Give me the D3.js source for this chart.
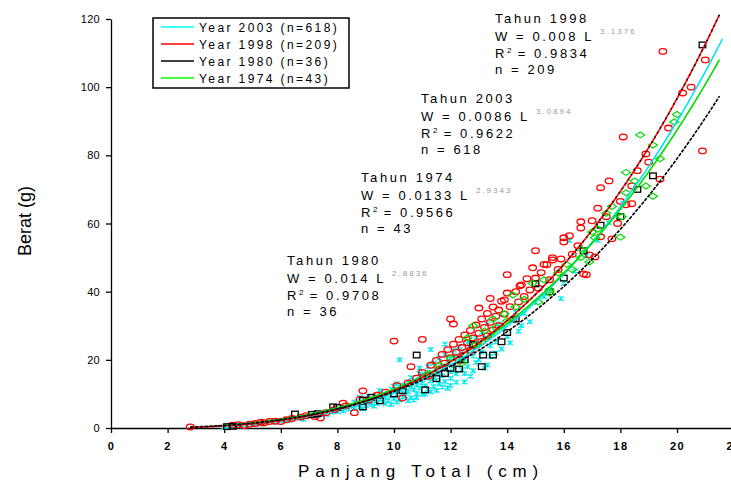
<!DOCTYPE html>
<html>
<head>
<meta charset="utf-8">
<script src="https://cdn.jsdelivr.net/npm/d3@7"></script>
<style>
  body { margin: 0; background: #fff; }
  text { font-family: "Liberation Sans", Arial, sans-serif; fill: #000; }
</style>
</head>
<body>
<svg id="chart"></svg>
<script>
const WIDTH = 731;
const HEIGHT = 482;

// tick labels
const xTicks = [0, 2, 4, 6, 8, 10, 12, 14, 16, 18, 20, 22];
const yTicks = [0, 20, 40, 60, 80, 100, 120];

// fitted models W = a L^b, one per year
const fitYears = ["1998", "2003", "1974", "1980"];
const fitA = [0.008, 0.0086, 0.0133, 0.014];
const fitAText = ["0.008", "0.0086", "0.0133", "0.014"];
const fitB = [3.1376, 3.0894, 2.9343, 2.8836];
const fitR2 = ["0.9834", "0.9622", "0.9566", "0.9708"];
const fitN = [209, 618, 43, 36];
const fitColors = ["#ff0000", "#00e5ee", "#00dd00", "#000000"];
const fitRange = [[2.8, 21.5], [4.0, 21.6], [4.0, 21.5], [2.8, 21.55]];

// legend
const legendLabels = ["Year 2003 (n=618)", "Year 1998 (n=209)", "Year 1980 (n=36)", "Year 1974 (n=43)"];
const legendColors = ["#00ffff", "#ff0000", "#000000", "#00ff00"];

// observed points [length cm, weight g]
const pts2003 = [
  [4.0,0.3],[4.1,0.5],[4.2,0.4],[4.3,0.7],[4.5,0.6],[4.6,0.9],[4.8,0.8],[5.0,1.1],[5.1,1.4],[5.3,1.2],
  [5.5,1.6],[5.6,1.9],[5.8,1.7],[6.0,2.1],[6.2,2.5],[6.3,2.2],[6.5,2.8],[6.7,3.0],[6.8,2.6],[7.0,3.4],
  [7.1,3.8],[7.3,3.5],[7.5,4.2],[7.6,3.9],[7.8,4.6],[7.9,5.2],[8.0,4.8],[8.1,5.6],[8.2,5.0],[8.3,6.1],
  [8.4,5.5],[8.5,6.4],[8.6,5.9],[8.7,6.8],[8.8,6.2],[8.9,7.3],[9.0,6.6],[9.0,8.0],[9.1,7.5],[9.2,8.6],
  [9.2,6.9],[9.3,7.9],[9.4,9.1],[9.4,7.2],[9.5,8.4],[9.6,9.6],[9.6,7.6],[9.7,8.9],[9.8,10.2],[9.8,8.1],
  [9.9,9.5],[10.0,10.8],[10.0,8.6],[10.0,12.2],[10.1,9.8],[10.2,11.3],[10.2,8.2],[10.3,10.4],[10.3,12.6],[10.4,9.4],
  [10.4,11.8],[10.5,13.4],[10.5,10.6],[10.6,12.1],[10.6,8.9],[10.7,11.2],[10.7,13.9],[10.8,12.7],[10.8,10.1],[10.9,14.3],
  [10.9,11.7],[11.0,13.2],[11.0,9.8],[11.0,15.6],[11.1,12.4],[11.1,14.8],[11.2,11.3],[11.2,16.2],[11.3,13.8],[11.3,23.0],
  [11.4,15.1],[11.4,12.2],[11.5,17.0],[11.5,14.0],[11.6,16.1],[11.6,12.9],[11.7,18.2],[11.7,15.3],[11.8,17.4],[11.8,13.6],
  [11.9,11.7],[11.9,19.3],[12.0,16.5],[12.0,20.4],[12.0,14.6],[12.1,18.1],[12.2,21.2],[12.2,15.9],[12.3,19.6],[12.4,17.2],
  [12.4,22.5],[12.5,20.3],[12.6,18.0],[12.7,23.4],[12.8,21.1],[12.9,19.2],[13.0,24.8],[13.1,22.3],[13.2,26.4],[13.3,18.5],
  [13.4,24.1],[13.5,27.6],[13.6,25.2],[13.8,23.2],[13.9,29.3],[14.0,26.8],[14.2,31.5],[14.4,28.4],[14.6,33.6],[14.8,31.2],
  [15.0,36.8],[15.3,38.5],[15.9,38.0],[16.0,42.5],[16.2,55.0],[16.4,46.0],[16.8,50.5],[17.2,55.0],[17.6,60.2],[18.1,66.0],
  [10.2,20.0],[10.7,8.2],[9.5,11.0],[8.8,9.0],[12.5,13.5],[11.9,11.7],[13.3,30.5],[12.8,16.8],[10.9,17.6],[9.9,6.9],
  [8.6,7.6],[8.9,5.6],[9.1,9.4],[9.3,6.4],[9.5,10.0],[9.7,7.1],[9.9,11.4],[10.1,7.6],[10.1,13.0],[10.3,9.0],
  [10.5,8.0],[10.6,14.8],[10.8,8.9],[10.9,16.0],[11.1,10.0],[11.2,18.0],[11.3,10.6],[11.4,19.0],[11.5,11.0],[11.6,20.5],
  [11.7,12.0],[11.8,21.5],[12.0,12.5],[12.1,22.8],[12.2,13.4],[12.3,23.9],[12.5,16.0],[12.6,25.0],[12.7,15.2],[12.9,26.5],
  [13.0,20.0],[13.1,28.0],[13.2,17.6],[13.4,21.0],[13.6,22.0],[13.7,30.5],[14.1,25.0],[14.3,34.0],[14.5,30.0],[11.8,24.6]
];
const pts1998 = [
  [2.8,0.3],[4.3,0.8],[4.5,1.0],[4.7,0.7],[4.9,1.1],[5.1,1.3],[5.3,1.7],[5.4,1.5],[5.6,1.9],[5.8,2.0],
  [6.0,1.9],[6.2,2.4],[6.4,2.8],[6.7,3.2],[6.9,3.6],[7.2,3.4],[7.4,2.9],[7.6,4.5],[7.9,5.4],[8.2,7.3],
  [8.3,6.5],[8.6,4.5],[8.8,8.4],[8.9,10.9],[9.1,8.2],[9.4,9.6],[9.7,10.5],[10.0,25.5],[10.1,12.4],[10.3,8.8],
  [10.5,13.2],[10.6,18.0],[10.8,14.6],[11.0,16.3],[11.2,15.2],[11.3,18.4],[11.5,19.8],[11.6,17.3],[11.7,21.6],[11.8,19.0],
  [11.9,23.0],[12.0,20.6],[12.1,30.5],[12.1,24.6],[12.2,22.2],[12.3,26.0],[12.3,19.8],[12.4,23.6],[12.5,27.3],[12.5,21.4],
  [12.6,25.0],[12.7,28.6],[12.7,22.8],[12.8,26.4],[12.9,30.2],[12.9,24.2],[13.0,35.2],[13.0,27.8],[13.1,32.0],[13.1,25.4],
  [13.2,29.5],[13.3,33.6],[13.3,27.0],[13.4,31.0],[13.5,35.5],[13.5,28.8],[13.6,32.8],[13.7,34.6],[13.7,30.0],[13.8,37.2],
  [13.9,33.4],[13.9,37.6],[14.0,39.6],[14.1,35.6],[14.2,31.8],[14.3,40.0],[14.4,37.0],[14.45,41.7],[14.5,42.0],[14.6,38.6],
  [14.7,43.8],[14.8,40.5],[14.9,47.0],[15.0,44.0],[15.1,41.0],[15.2,45.6],[15.3,48.0],[15.4,47.9],[15.5,43.5],[15.6,50.0],
  [15.6,49.3],[15.8,46.5],[15.9,49.6],[16.0,55.8],[16.0,54.6],[16.2,56.4],[16.3,51.0],[16.5,53.5],[16.6,60.5],[16.6,58.7],
  [16.7,45.2],[16.8,45.0],[16.9,50.8],[17.0,60.8],[17.1,50.2],[17.2,64.5],[17.3,56.1],[17.3,70.5],[17.5,62.0],[17.6,72.5],
  [17.7,55.5],[17.9,60.0],[18.0,66.5],[18.1,85.4],[18.2,65.5],[18.4,65.8],[18.4,71.0],[18.6,75.5],[18.9,80.4],[19.0,78.0],
  [19.4,73.0],[19.5,110.5],[19.7,88.0],[20.2,98.3],[20.5,100.0],[20.9,81.3],[21.0,108.0],[14.0,45.0],[15.0,52.0],[13.4,38.0],
  [12.0,32.0],[11.0,26.0]
];
const pts1980 = [
  [4.1,0.4],[4.3,0.5],[6.5,4.1],[7.1,4.0],[7.3,4.2],[7.85,6.2],[8.0,6.0],[8.9,6.2],[8.9,8.2],[9.5,8.0],
  [10.0,10.0],[10.3,11.0],[10.8,21.4],[11.1,11.2],[11.5,14.5],[12.0,17.5],[12.3,17.3],[12.5,20.0],[12.8,24.5],[13.1,18.0],
  [13.15,21.4],[13.5,21.4],[13.8,25.3],[14.0,28.0],[14.3,32.0],[15.0,42.3],[15.5,40.0],[16.0,44.0],[16.7,52.0],[17.3,59.5],
  [18.0,62.0],[18.6,70.0],[19.15,74.0],[20.9,112.4],[11.8,16.0],[9.2,9.0]
];
const pts1974 = [
  [11.2,16.0],[11.6,18.5],[12.0,20.5],[12.4,19.1],[12.6,26.5],[12.8,30.0],[12.9,24.5],[13.2,28.5],[13.5,32.0],[13.6,29.5],
  [13.9,33.5],[14.0,31.5],[14.2,39.0],[14.3,35.5],[14.6,37.8],[14.9,42.5],[15.1,37.0],[15.3,43.5],[15.5,40.5],[15.5,39.6],
  [15.8,45.5],[16.1,48.0],[16.3,46.5],[16.6,50.0],[16.6,52.5],[16.9,48.7],[17.0,57.5],[17.1,55.8],[17.2,58.4],[17.5,63.0],
  [17.7,65.0],[18.0,56.0],[18.05,62.0],[18.2,69.0],[18.2,75.0],[18.5,72.5],[18.7,86.0],[18.9,71.0],[19.15,68.0],[19.15,83.0],
  [19.4,79.0],[19.9,89.8],[20.0,92.0]
];

const scaleX = d3.scaleLinear([0, 22], [111, 733.6]);
const scaleY = d3.scaleLinear([0, 120], [428, 19]);

const svg = d3.select('#chart')
    .attr('width', WIDTH)
    .attr('height', HEIGHT);

// axes
const xAxis = svg.append('g')
    .attr('transform', `translate(0, ${scaleY(0)})`)
    .call(d3.axisBottom(scaleX).tickValues(xTicks).tickSize(5).tickSizeOuter(0).tickPadding(9));
const yAxis = svg.append('g')
    .attr('transform', `translate(${scaleX(0)}, 0)`)
    .call(d3.axisLeft(scaleY).tickValues(yTicks).tickSize(5).tickSizeOuter(0).tickPadding(6));
svg.selectAll('.domain, .tick line').attr('stroke', '#000').attr('stroke-width', 1.3);
xAxis.selectAll('text').attr('font-size', 11).attr('font-weight', 'bold')
    .attr('letter-spacing', 1.5).attr('font-family', '"Liberation Sans", Arial');
yAxis.selectAll('text').attr('font-size', 11).attr('letter-spacing', 0.3)
    .attr('font-family', '"Liberation Sans", Arial');

// axis titles
svg.append('text')
    .attr('x', 421).attr('y', 477)
    .attr('text-anchor', 'middle')
    .attr('font-size', 17).attr('letter-spacing', 5.8)
    .text('Panjang Total (cm)');
svg.append('text')
    .attr('transform', 'translate(31, 221) rotate(-90)')
    .attr('text-anchor', 'middle')
    .attr('font-size', 18)
    .text('Berat (g)');

// points
const plot = svg.append('g');

plot.selectAll('path.p2003')
    .data(pts2003).enter().append('path')
    .attr('class', 'p2003')
    .attr('d', p => {
        const cx = scaleX(p[0]), cy = scaleY(p[1]);
        return `M${cx - 2.8},${cy - 2.3}L${cx + 2.8},${cy + 2.3}M${cx - 2.8},${cy + 2.3}L${cx + 2.8},${cy - 2.3}M${cx},${cy - 2.5}L${cx},${cy + 2.5}`;
    })
    .attr('stroke', '#00e8f0').attr('stroke-width', 1.2).attr('fill', 'none');

plot.selectAll('ellipse.p1998')
    .data(pts1998).enter().append('ellipse')
    .attr('class', 'p1998')
    .attr('cx', p => scaleX(p[0]))
    .attr('cy', p => scaleY(p[1]))
    .attr('rx', 3.8).attr('ry', 2.8)
    .attr('fill', 'none').attr('stroke', '#ff0000').attr('stroke-width', 1.3);

plot.selectAll('rect.p1980')
    .data(pts1980).enter().append('rect')
    .attr('class', 'p1980')
    .attr('x', p => scaleX(p[0]) - 3.3)
    .attr('y', p => scaleY(p[1]) - 2.8)
    .attr('width', 6.6).attr('height', 5.6)
    .attr('fill', 'none').attr('stroke', '#000').attr('stroke-width', 1.3);

plot.selectAll('path.p1974')
    .data(pts1974).enter().append('path')
    .attr('class', 'p1974')
    .attr('d', p => {
        const cx = scaleX(p[0]), cy = scaleY(p[1]);
        return `M${cx - 4.5},${cy}L${cx},${cy - 3}L${cx + 4.5},${cy}L${cx},${cy + 3}Z`;
    })
    .attr('fill', 'none').attr('stroke', '#00dd00').attr('stroke-width', 1.2);

// fitted curves
const line = d3.line().x(d => scaleX(d[0])).y(d => scaleY(d[1]));
function fitCurve(i) {
    const [lo, hi] = fitRange[i];
    return d3.range(lo, hi + 0.001, 0.1).map(L => [L, fitA[i] * Math.pow(L, fitB[i])]);
}
const curveOrder = [1, 2, 0, 3];
curveOrder.forEach(i => {
    plot.append('path')
        .attr('d', line(fitCurve(i)))
        .attr('fill', 'none')
        .attr('stroke', fitColors[i])
        .attr('stroke-width', 1.6)
        .attr('stroke-dasharray', i === 3 ? '3.5,1.2' : null);
});
// black dotted overlay on the 1998 curve
plot.append('path')
    .attr('d', line(fitCurve(0)))
    .attr('fill', 'none').attr('stroke', '#000')
    .attr('stroke-width', 1.6).attr('stroke-dasharray', '1.5,4');

// legend
const legend = svg.append('g');
legend.append('rect')
    .attr('x', 153).attr('y', 18).attr('width', 196).attr('height', 70)
    .attr('fill', '#fff').attr('stroke', '#000').attr('stroke-width', 1.5);
legendLabels.forEach((lab, i) => {
    const ly = 27 + i * 17;
    legend.append('line')
        .attr('x1', 161).attr('x2', 194).attr('y1', ly).attr('y2', ly)
        .attr('stroke', legendColors[i]).attr('stroke-width', 1.5);
    legend.append('text')
        .attr('x', 199).attr('y', ly + 4.5)
        .attr('font-size', 12).attr('letter-spacing', 2.4)
        .text(lab);
});

// equation annotations
const annX = [495, 421, 361, 287];
const annY = [23, 103, 182, 265];
fitYears.forEach((yr, i) => {
    const g = svg.append('g').attr('transform', `translate(${annX[i]}, ${annY[i]})`);
    const t1 = g.append('text').attr('y', 0).text(`Tahun ${yr}`);
    const t2 = g.append('text').attr('y', 17.5).text(`W =  ${fitAText[i]} L`);
    const t3 = g.append('text').attr('y', 34.5);
    t3.append('tspan').text('R');
    t3.append('tspan').attr('font-size', 8).attr('dy', -5).attr('letter-spacing', 0).text('2');
    t3.append('tspan').attr('dy', 5).text(` = ${fitR2[i]}`);
    const t4 = g.append('text').attr('y', 51).text(`n = ${fitN[i]}`);
    [t1, t2, t3, t4].forEach(t => t.attr('font-size', 13).attr('letter-spacing', 2.6));
    const w = t2.node().getComputedTextLength();
    g.append('text')
        .attr('x', w + 6).attr('y', 10.5)
        .attr('font-size', 8).attr('letter-spacing', 2)
        .style('fill', '#999')
        .text(fitB[i].toFixed(4));
});
</script>
</body>
</html>
